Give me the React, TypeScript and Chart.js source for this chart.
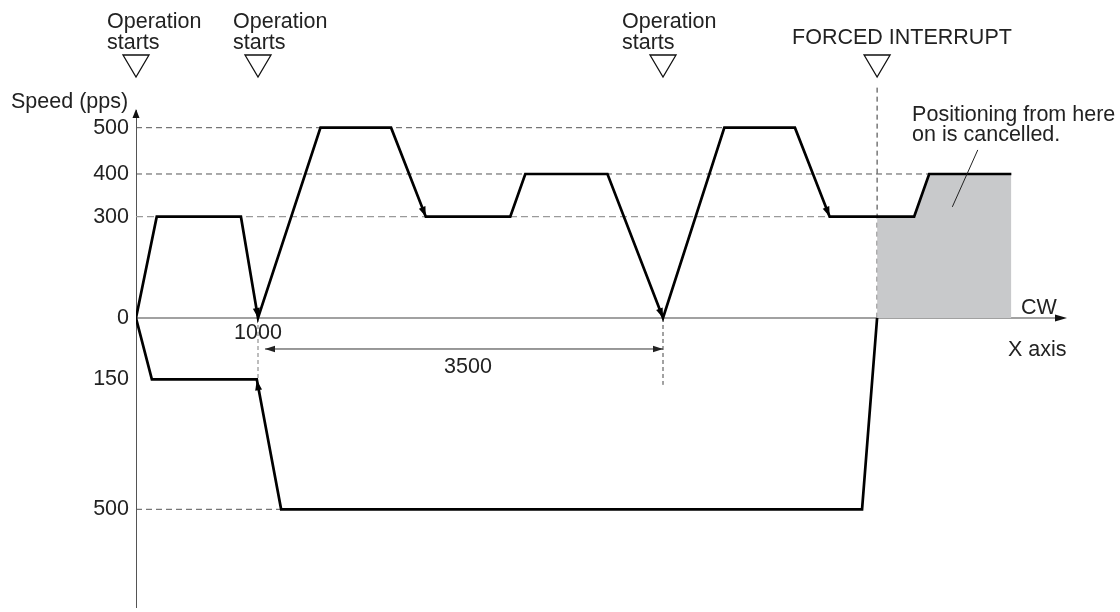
import React, { useEffect, useRef } from 'react';
import { Chart, registerables, LinearScale } from 'chart.js';

Chart.register(...registerables);

// ---- data (positions in pulses, speeds in pps; CCW speeds negative) ----
const speedTicks = [-500, -150, 0, 300, 400, 500];
const cwPositions = [0, 170, 860, 1000, 1540, 2150, 2450, 3180, 3310, 4020, 4500, 5030, 5640, 5940, 6670, 6800, 7510];
const cwSpeeds = [0, 300, 300, 0, 500, 500, 300, 300, 400, 400, 0, 500, 500, 300, 300, 400, 400];
const ccwPositions = [0, 130, 990, 1200, 6220, 6350];
const ccwSpeeds = [0, -150, -150, -500, -500, 0];
const cancelledPositions = [6350, 6670, 6800, 7510];
const cancelledSpeeds = [300, 300, 400, 400];
const startPositions = [0, 1000, 4500];
const startLabelLines = ['Operation', 'starts'];
const interruptPosition = 6350;
const interruptLabel = 'FORCED INTERRUPT';
const cancelNoteLines = ['Positioning from here', 'on is cancelled.'];
const guideLevels = [500, 400, 300, -500];
const guideEnds = [5030, 6800, 5940, 1200];
const distanceLabels = ['1000', '3500'];
const distanceFrom = 1000;
const distanceTo = 4500;

// schematic (non-uniform) axis mapping: [value, fraction of axis length]
const BREAKS: Record<string, [number, number][]> = {
  x: [[0, 0], [1000, 0.13104], [4500, 0.56606], [7991, 1]],
  y: [[-763, 0], [-500, 0.19658], [-150, 0.45815], [0, 0.58149], [300, 0.78531], [400, 0.87123], [500, 0.96439], [538, 1]],
};

function toFrac(bp: [number, number][], v: number) {
  let i = 0;
  while (i < bp.length - 2 && v > bp[i + 1][0]) i++;
  const [v0, f0] = bp[i];
  const [v1, f1] = bp[i + 1];
  return f0 + ((v - v0) / (v1 - v0)) * (f1 - f0);
}
function fromFrac(bp: [number, number][], f: number) {
  let i = 0;
  while (i < bp.length - 2 && f > bp[i + 1][1]) i++;
  const [v0, f0] = bp[i];
  const [v1, f1] = bp[i + 1];
  return v0 + ((f - f0) / (f1 - f0)) * (v1 - v0);
}

class PiecewiseScale extends LinearScale {
  static id = 'piecewise';
  static defaults = {};
  getPixelForValue(value: any) {
    if (value === null || value === undefined || isNaN(value)) return NaN;
    return this.getPixelForDecimal(toFrac(BREAKS[(this as any).axis], value));
  }
  getValueForPixel(pixel: number) {
    return fromFrac(BREAKS[(this as any).axis], this.getDecimalForPixel(pixel));
  }
}
Chart.register(PiecewiseScale as any);

const FONT = '21.5px "Liberation Sans", Arial, sans-serif';
const TEXT = '#222';

function arrowHead(ctx: CanvasRenderingContext2D, fx: number, fy: number, tx: number, ty: number, len: number, half: number) {
  const a = Math.atan2(ty - fy, tx - fx);
  const c = Math.cos(a), s = Math.sin(a);
  ctx.beginPath();
  ctx.moveTo(tx, ty);
  ctx.lineTo(tx - len * c + half * s, ty - len * s - half * c);
  ctx.lineTo(tx - len * c - half * s, ty - len * s + half * c);
  ctx.closePath();
  ctx.fill();
}

function line(ctx: CanvasRenderingContext2D, x1: number, y1: number, x2: number, y2: number, color: string, width: number, dash: number[]) {
  ctx.save();
  ctx.strokeStyle = color;
  ctx.lineWidth = width;
  ctx.setLineDash(dash);
  ctx.beginPath();
  ctx.moveTo(x1, y1);
  ctx.lineTo(x2, y2);
  ctx.stroke();
  ctx.restore();
}

const diagramPlugin = {
  id: 'diagram',
  beforeDatasetsDraw(chart: any) {
    const { ctx, chartArea } = chart;
    const px = (v: number) => chart.scales.x.getPixelForValue(v);
    const py = (v: number) => chart.scales.y.getPixelForValue(v);
    // horizontal guides
    guideLevels.forEach((lv, i) => {
      const light = lv === 300;
      line(ctx, px(0), py(lv), px(guideEnds[i]), py(lv), light ? '#9a9a9a' : '#555', light ? 1.3 : 1, light ? [7, 4] : [6, 4]);
    });
    // vertical guides
    line(ctx, px(1000), py(0), px(1000), py(-150), '#9a9a9a', 1.3, [4, 3]);
    line(ctx, px(4500), py(0), px(4500), py(-165), '#444', 1, [4, 3]);
    line(ctx, px(interruptPosition), py(586), px(interruptPosition), py(0), '#333', 1, [5, 4]);
    // x axis
    const y0 = py(0);
    line(ctx, chartArea.left, y0, chartArea.right - 4, y0, '#444', 1.2, []);
  },
  afterDatasetsDraw(chart: any) {
    const { ctx, chartArea } = chart;
    const px = (v: number) => chart.scales.x.getPixelForValue(v);
    const py = (v: number) => chart.scales.y.getPixelForValue(v);
    const y0 = py(0);
    ctx.save();
    ctx.fillStyle = '#111';
    // axis arrows
    arrowHead(ctx, chartArea.left, chartArea.top + 20, chartArea.left, chartArea.top - 1, 9, 3.5);
    arrowHead(ctx, chartArea.left, y0, chartArea.right, y0, 12, 3.5);
    // direction arrowheads on the profile
    ctx.fillStyle = '#000';
    arrowHead(ctx, px(860), py(300), px(1000), py(0), 10, 3.5);
    arrowHead(ctx, px(2150), py(500), px(2450), py(300), 10, 3.5);
    arrowHead(ctx, px(4020), py(400), px(4500), py(0), 10, 3.5);
    arrowHead(ctx, px(5640), py(500), px(5940), py(300), 10, 3.5);
    arrowHead(ctx, px(1200), py(-500), px(990), py(-150) + 1, 10, 3.5);

    // dimension arrow
    const dy = y0 + 31;
    ctx.fillStyle = '#222';
    line(ctx, px(distanceFrom) + 7, dy, px(distanceTo), dy, '#333', 1, []);
    arrowHead(ctx, px(distanceTo), dy, px(distanceFrom) + 7, dy, 10, 3.2);
    arrowHead(ctx, px(distanceFrom), dy, px(distanceTo), dy, 10, 3.2);

    // leader line for note
    line(ctx, px(7220), py(452), px(7000), py(323), '#222', 1, []);

    ctx.font = FONT;
    ctx.fillStyle = TEXT;
    ctx.textBaseline = 'alphabetic';
    ctx.textAlign = 'center';
    ctx.fillText(distanceLabels[0], px(distanceFrom), y0 + 21);
    ctx.fillText(distanceLabels[1], px(distanceFrom) + 210, y0 + 55);

    ctx.textAlign = 'left';
    ctx.fillText('Speed (pps)', 11, chartArea.top - 2);
    ctx.fillText('CW', chartArea.right - 46, y0 - 4);
    ctx.fillText('X axis', chartArea.right - 59, y0 + 38);

    // operation start markers
    const offsets = [-29, -25, -41];
    const tri = (cx: number, top: number) => {
      ctx.save();
      ctx.strokeStyle = '#111';
      ctx.lineWidth = 1.3;
      ctx.beginPath();
      ctx.moveTo(cx - 13, top);
      ctx.lineTo(cx + 13, top);
      ctx.lineTo(cx, top + 22);
      ctx.closePath();
      ctx.stroke();
      ctx.restore();
    };
    startPositions.forEach((p, i) => {
      const cx = px(p);
      ctx.fillText(startLabelLines[0], cx + offsets[i], 28);
      ctx.fillText(startLabelLines[1], cx + offsets[i], 49);
      tri(cx, 55);
    });
    const ix = px(interruptPosition);
    ctx.fillText(interruptLabel, ix - 85, 44);
    tri(ix, 55);
    ctx.fillText(cancelNoteLines[0], ix + 35, 121);
    ctx.fillText(cancelNoteLines[1], ix + 35, 141);
    ctx.restore();
  },
};

export default function App() {
  const ref = useRef<HTMLCanvasElement | null>(null);
  useEffect(() => {
    document.body.style.margin = '0';
    const canvas = ref.current;
    if (!canvas) return;
    const chart = new Chart(canvas, {
      type: 'line',
      data: {
        datasets: [
          {
            label: 'CW',
            data: cwPositions.map((x, i) => ({ x, y: cwSpeeds[i] })),
            borderColor: '#000',
            borderWidth: 2.7,
            pointRadius: 0,
            tension: 0,
            fill: false,
            order: 1,
          },
          {
            label: 'CCW',
            data: ccwPositions.map((x, i) => ({ x, y: ccwSpeeds[i] })),
            borderColor: '#000',
            borderWidth: 2.7,
            pointRadius: 0,
            tension: 0,
            fill: false,
            order: 1,
          },
          {
            label: 'Cancelled',
            data: cancelledPositions.map((x, i) => ({ x, y: cancelledSpeeds[i] })),
            borderWidth: 0,
            borderColor: 'rgba(0,0,0,0)',
            backgroundColor: '#c8c9cb',
            pointRadius: 0,
            tension: 0,
            fill: 'origin',
            order: 5,
          },
        ],
      },
      options: {
        animation: false,
        responsive: false,
        maintainAspectRatio: false,
        events: [],
        layout: { padding: { top: 110, right: 53, bottom: 5, left: 0 } },
        plugins: { legend: { display: false }, tooltip: { enabled: false } },
        scales: {
          x: {
            type: 'piecewise' as any,
            min: 0,
            max: 7991,
            display: false,
          },
          y: {
            type: 'piecewise' as any,
            min: -763,
            max: 538,
            display: true,
            position: 'left',
            grid: { display: false, drawTicks: false },
            border: { display: true, color: '#555', width: 1 },
            afterBuildTicks: (scale: any) => {
              scale.ticks = speedTicks.map((v) => ({ value: v }));
            },
            afterFit: (scale: any) => {
              scale.width = 136;
              scale.paddingTop = 0;
              scale.paddingBottom = 0;
            },
            ticks: {
              padding: 7,
              color: TEXT,
              font: { family: '"Liberation Sans", Arial, sans-serif', size: 21.5 },
              callback: (v: any) => String(Math.abs(Number(v))),
              autoSkip: false,
            },
          },
        },
      },
      plugins: [diagramPlugin],
    } as any);
    return () => chart.destroy();
  }, []);
  return (
    <div style={{ width: 1120, height: 612 }}>
      <canvas ref={ref} width={1120} height={612} style={{ display: 'block' }} />
    </div>
  );
}
